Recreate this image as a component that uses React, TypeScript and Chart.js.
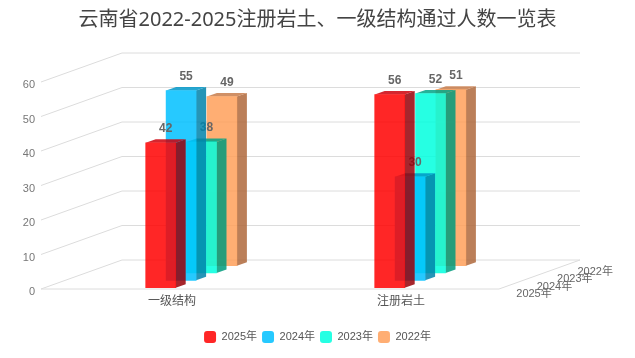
import React, { useEffect, useRef } from "react";
import { Chart, registerables } from "chart.js";

Chart.register(...registerables);

const categories = ["一级结构", "注册岩土"];
const seriesNames = ["2025年", "2024年", "2023年", "2022年"];
const values2025 = [42, 56];
const values2024 = [55, 30];
const values2023 = [38, 52];
const values2022 = [49, 51];
const titleText = "云南省2022-2025注册岩土、一级结构通过人数一览表";

const frontColors = ["rgba(255,0,0,0.85)", "rgba(0,191,255,0.85)", "rgba(0,255,222,0.85)", "rgba(255,160,90,0.85)"];
const sideColors = ["rgba(150,0,8,0.85)", "rgba(0,130,170,0.85)", "rgba(0,155,125,0.85)", "rgba(175,105,60,0.85)"];
const topColors = ["rgba(205,0,10,0.85)", "rgba(0,150,200,0.85)", "rgba(0,165,135,0.85)", "rgba(200,125,75,0.85)"];

const FONT = '"Liberation Sans","Noto Sans CJK SC",sans-serif';
const WALL_DX = 81;
const WALL_DY = -29;
const BAR_DX = 10;
const BAR_DY = -3.5;
const GRID = "#dcdcdc";

function shift(i: number) {
  return { x: 5.2 + 20.4 * i, y: -1.3 - 7.35 * i };
}

const plugin3d = {
  id: "plugin3d",
  beforeDatasetsDraw(chart: any) {
    const { ctx, scales } = chart;
    const xs = scales.x;
    const ys = scales.y;
    const l = xs.left;
    const r = xs.right;
    ctx.save();
    ctx.strokeStyle = GRID;
    ctx.lineWidth = 1;
    for (const t of ys.ticks) {
      const py = ys.getPixelForValue(t.value);
      ctx.beginPath();
      ctx.moveTo(l, py);
      ctx.lineTo(l + WALL_DX, py + WALL_DY);
      ctx.lineTo(r + WALL_DX, py + WALL_DY);
      ctx.stroke();
    }
    const y0 = ys.getPixelForValue(0);
    ctx.beginPath();
    ctx.moveTo(l, y0);
    ctx.lineTo(r, y0);
    ctx.lineTo(r + WALL_DX, y0 + WALL_DY);
    ctx.stroke();
    ctx.font = "11px " + FONT;
    ctx.fillStyle = "#666";
    ctx.textAlign = "center";
    ctx.textBaseline = "middle";
    seriesNames.forEach((n, i) => {
      ctx.fillText(n, r + 35 + 20.4 * i, y0 + 5 - 7.35 * i);
    });
    ctx.restore();
  },
  beforeDatasetDraw(chart: any, args: any) {
    const { ctx } = chart;
    const i = args.index;
    const s = shift(i);
    ctx.save();
    ctx.translate(s.x, s.y);
    for (const el of args.meta.data) {
      const half = el.width / 2;
      const xl = el.x - half;
      const xr = el.x + half;
      ctx.fillStyle = sideColors[i];
      ctx.beginPath();
      ctx.moveTo(xr, el.y);
      ctx.lineTo(xr + BAR_DX, el.y + BAR_DY);
      ctx.lineTo(xr + BAR_DX, el.base + BAR_DY);
      ctx.lineTo(xr, el.base);
      ctx.closePath();
      ctx.fill();
      ctx.fillStyle = topColors[i];
      ctx.beginPath();
      ctx.moveTo(xl, el.y);
      ctx.lineTo(xl + BAR_DX, el.y + BAR_DY);
      ctx.lineTo(xr + BAR_DX, el.y + BAR_DY);
      ctx.lineTo(xr, el.y);
      ctx.closePath();
      ctx.fill();
    }
  },
  afterDatasetDraw(chart: any, args: any) {
    const { ctx, data } = chart;
    const vals = data.datasets[args.index].data;
    ctx.font = "bold 12px " + FONT;
    ctx.fillStyle = "#666";
    ctx.textAlign = "center";
    ctx.textBaseline = "middle";
    args.meta.data.forEach((el: any, k: number) => {
      ctx.fillText(String(vals[k]), el.x + 5, el.y - 14);
    });
    ctx.restore();
  },
};

export default function App() {
  const ref = useRef<HTMLCanvasElement>(null);
  useEffect(() => {
    const chart = new Chart(ref.current!, {
      type: "bar",
      data: {
        labels: categories,
        datasets: [values2025, values2024, values2023, values2022].map((d, i) => ({
          label: seriesNames[i],
          data: d,
          backgroundColor: frontColors[i],
          grouped: false,
          barThickness: 30,
          clip: false,
          yAxisID: "y",
          xAxisID: "x",
        })) as any,
      },
      options: {
        responsive: false,
        animation: false,
        devicePixelRatio: 1,
        layout: { padding: { left: 0, right: 0, top: 0, bottom: 5 } },
        plugins: {
          tooltip: { enabled: false },
          title: {
            display: true,
            text: titleText,
            color: "#444",
            font: { family: '"Noto Sans","Noto Sans CJK SC",sans-serif', size: 20, weight: "normal" },
            padding: { top: 8, bottom: 50 },
          },
          legend: {
            position: "bottom",
            align: "center",
            fullSize: true,
            labels: {
              boxWidth: 12,
              boxHeight: 12,
              padding: 5,
              useBorderRadius: true,
              borderRadius: 3,
              color: "#555",
              font: { family: FONT, size: 11 },
            },
          },
        },
        scales: {
          x: {
            grid: { display: false, drawTicks: false },
            border: { display: false },
            afterFit: (s: any) => { s.height = 37; },
            ticks: {
              color: "#555",
              font: { family: FONT, size: 12 },
              padding: 5,
              labelOffset: 16.5,
              maxRotation: 0,
            },
          },
          y: {
            min: 0,
            max: 60,
            grid: { display: false, drawTicks: false },
            border: { display: false },
            afterFit: (s: any) => { s.width = 41; },
            ticks: {
              stepSize: 10,
              color: "#777",
              font: { family: FONT, size: 11 },
              padding: 6,
              labelOffset: 3,
            },
          },
          yRight: {
            axis: "y",
            position: "right",
            grid: { display: false, drawTicks: false },
            border: { display: false },
            ticks: { display: false },
            afterFit: (s: any) => { s.width = 136; },
          },
        },
      } as any,
      plugins: [plugin3d],
    });
    return () => chart.destroy();
  }, []);
  return (
    <div style={{ position: "absolute", left: 0, top: 0, width: 635, height: 358, background: "#fff" }}>
      <canvas ref={ref} width={635} height={358} style={{ display: "block" }} />
    </div>
  );
}
